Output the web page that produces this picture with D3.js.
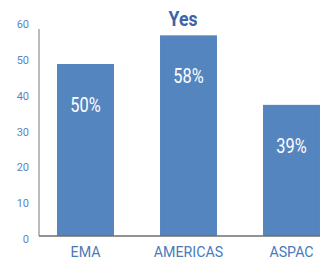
<!DOCTYPE html>
<html>
<head>
<meta charset="utf-8">
<script src="https://cdn.jsdelivr.net/npm/d3@7"></script>
<style>
    body { margin: 0; background: #fff; overflow: hidden; }
    text { font-family: Roboto, "Liberation Sans", sans-serif; }
</style>
</head>
<body>
<script>
const svgWidth = 320;
const svgHeight = 260;

// data
const categories = ['EMA', 'AMERICAS', 'ASPAC'];
const values = [48, 56, 36.6];
const valueLabels = ['50%', '58%', '39%'];
const yTicks = [0, 10, 20, 30, 40, 50, 60];
const title = 'Yes';

const config = {
    left: 39, right: 338, top: 21, bottom: 236
}

const data = categories.map((c, i) => ({cat: c, value: values[i], label: valueLabels[i]}));

const svg = d3.select('body').append('svg')
    .attr('width', svgWidth)
    .attr('height', svgHeight);

const scaleX = d3.scaleBand()
    .domain(categories)
    .range([config.left, config.right])
    .paddingInner(0.447)
    .paddingOuter(0.175);

const scaleY = d3.scaleLinear()
    .domain([0, 60])
    .range([config.bottom, config.top]);

// bars
svg.append('g').classed('rects', true)
    .selectAll('rect')
    .data(data)
    .join('rect')
    .attr('x', d => scaleX(d.cat))
    .attr('y', d => scaleY(d.value))
    .attr('width', scaleX.bandwidth())
    .attr('height', d => config.bottom - scaleY(d.value))
    .attr('fill', '#5585BF');

// value labels inside bars (narrow font look -> squeeze horizontally)
svg.append('g')
    .selectAll('text')
    .data(data)
    .join('text')
    .attr('transform', d => `translate(${scaleX(d.cat) + scaleX.bandwidth() / 2},${scaleY(d.value) + 48}) scale(0.82,1)`)
    .attr('text-anchor', 'middle')
    .attr('font-size', 20)
    .attr('fill', '#fff')
    .text(d => d.label);

// y axis
const yAxis = svg.append('g')
    .attr('transform', `translate(${config.left},0)`)
    .call(d3.axisLeft(scaleY).tickValues(yTicks).tickSize(0).tickPadding(10));
yAxis.select('.domain').remove();
yAxis.selectAll('text')
    .attr('font-size', 11)
    .attr('fill', '#5B85C5')
    .attr('dy', '0.6em');
svg.append('line')
    .attr('x1', config.left).attr('x2', config.left)
    .attr('y1', 29).attr('y2', config.bottom)
    .attr('stroke', '#A6A6A6').attr('stroke-width', 1.5);

// x axis
const xAxis = svg.append('g')
    .attr('transform', `translate(0,${config.bottom})`)
    .call(d3.axisBottom(scaleX).tickSize(0).tickPadding(10));
xAxis.select('.domain')
    .attr('d', `M${config.left},0H${svgWidth}`)
    .attr('stroke', '#6E6E6E').attr('stroke-width', 1.5);
xAxis.selectAll('text')
    .attr('font-size', 15)
    .attr('fill', '#4A7AB8')
    .attr('y', 0)
    .attr('dy', 0)
    .attr('transform', 'translate(0,21) scale(0.95,1)');

// title
svg.append('text')
    .attr('transform', 'translate(183,26) scale(0.88,1)')
    .attr('text-anchor', 'middle')
    .attr('font-size', 20)
    .attr('font-weight', 'bold')
    .attr('fill', '#3E64A8')
    .text(title);
</script>
</body>
</html>
